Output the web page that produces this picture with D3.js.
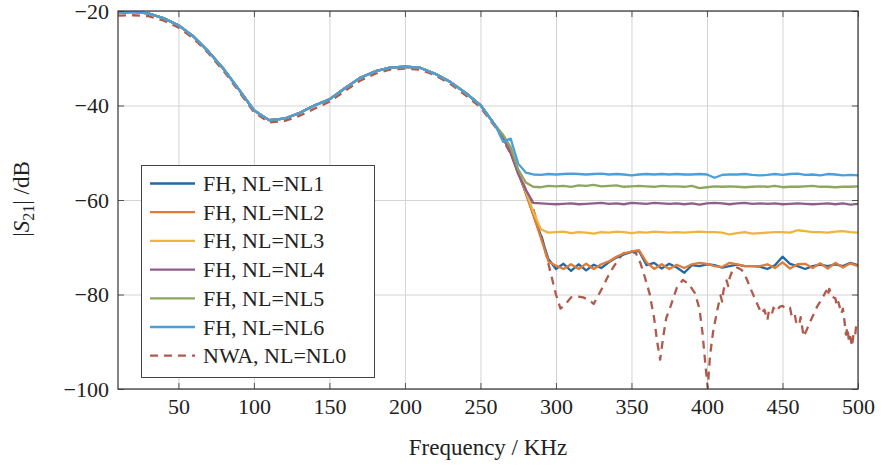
<!DOCTYPE html>
<html>
<head>
<meta charset="utf-8">
<script src="https://cdn.jsdelivr.net/npm/d3@7"></script>
<style>
  body { margin: 0; background: #fff; }
  text { font-family: "Liberation Serif", "Times New Roman", serif; fill: #222; }
</style>
</head>
<body>
<svg id="chart" width="882" height="469"></svg>
<script>
// frequency grid (KHz)
var freqLow = [10, 20, 30, 40, 50, 60, 70, 80, 90, 100, 110, 120, 130, 140, 150, 160, 170, 180, 190, 200, 210, 220, 230, 240, 250, 260];
var freqHigh = [265, 270, 275, 280, 285, 290, 295, 300, 305, 310, 315, 320, 325, 330, 335, 340, 345, 350, 355, 360,
  365, 370, 375, 380, 385, 390, 395, 400, 405, 410, 415, 420, 425, 430, 435, 440, 445, 450, 455, 460,
  465, 470, 475, 480, 485, 490, 495, 500];

// passband shared by all FH curves
var fhBase = [-20.4, -20.2, -20.5, -21.5, -23.0, -25.4, -28.6, -32.3, -36.6, -41.0, -43.1, -42.8, -41.6, -40.0, -38.7,
  -36.4, -34.2, -32.8, -32.0, -31.8, -32.0, -33.3, -35.0, -37.3, -39.9, -44.3];

var tailNL1 = [-46.8, -50.0, -54.2, -58.5, -63.0, -67.5, -72.5, -74.6, -73.5, -75.0, -73.6, -74.9, -73.7, -74.4, -73.2, -72.2,
  -71.5, -71.0, -70.8, -73.8, -73.3, -74.5, -73.5, -74.3, -75.4, -73.8, -74.0, -73.6, -73.8, -74.3, -74.0, -73.7,
  -74.0, -74.0, -74.1, -74.6, -73.8, -72.0, -73.5, -74.0, -74.6, -74.0, -73.7, -74.0, -73.6, -74.0, -73.3, -73.8];
var tailNL2 = [-46.8, -50.0, -54.2, -58.5, -63.2, -68.0, -73.0, -73.9, -74.6, -73.6, -74.6, -73.5, -74.6, -73.6, -73.0, -72.0,
  -71.3, -70.9, -70.6, -73.2, -74.6, -73.6, -74.6, -73.7, -74.4, -73.6, -73.3, -73.5, -74.0, -74.2, -73.3, -73.6,
  -74.0, -74.0, -74.0, -73.6, -74.4, -73.2, -74.5, -73.6, -73.5, -74.4, -73.4, -74.5, -73.3, -74.3, -73.4, -74.0];
var tailNL3 = [-46.8, -49.8, -53.8, -58.0, -62.5, -66.2, -66.9, -66.8, -66.7, -67.0, -66.8, -66.9, -67.1, -66.8, -66.9, -66.7,
  -66.8, -67.0, -66.8, -66.9, -66.7, -66.8, -66.9, -66.8, -66.9, -66.8, -66.7, -66.8, -66.8, -66.9, -67.3, -67.0,
  -66.8, -67.1, -67.0, -66.9, -66.8, -66.8, -66.9, -66.4, -66.6, -66.8, -66.8, -66.9, -66.7, -66.6, -66.8, -66.9];
var tailNL4 = [-46.8, -50.0, -54.5, -57.8, -60.6, -60.7, -60.8, -60.9, -60.8, -60.7, -60.9, -60.8, -60.7, -60.6, -60.8, -60.7,
  -60.9, -60.6, -60.7, -60.8, -60.6, -60.7, -60.8, -60.7, -60.9, -60.7, -61.0, -60.7, -60.6, -60.7, -60.9, -60.7,
  -60.6, -60.8, -60.7, -60.8, -60.7, -60.9, -60.8, -60.7, -60.8, -60.9, -60.8, -60.7, -60.9, -60.7, -61.0, -60.8];
var tailNL5 = [-46.2, -48.8, -53.5, -56.3, -57.2, -57.3, -57.0, -57.1, -57.0, -57.2, -56.9, -57.0, -56.8, -57.1, -57.0, -56.9,
  -57.2, -57.1, -57.0, -57.1, -57.2, -57.0, -57.1, -57.1, -57.2, -57.0, -57.5, -57.3, -57.1, -57.2, -57.1, -57.2,
  -57.3, -57.2, -57.1, -57.2, -57.0, -57.3, -57.2, -57.2, -57.1, -57.0, -57.2, -57.2, -57.3, -57.2, -57.2, -57.1];
var tailNL6 = [-47.7, -47.0, -52.3, -54.2, -54.6, -54.7, -54.5, -54.6, -54.5, -54.4, -54.5, -54.6, -54.5, -54.4, -54.6, -54.5,
  -54.6, -54.8, -54.6, -54.5, -54.6, -54.5, -54.6, -54.5, -54.6, -54.6, -54.5, -54.6, -55.3, -54.7, -54.6, -54.6,
  -54.5, -54.7, -54.8, -54.7, -54.5, -54.7, -54.5, -54.4, -54.7, -54.6, -54.8, -54.5, -54.6, -54.8, -54.7, -54.8];

// network analyser measurement
var nwaFreq = [10, 20, 30, 40, 50, 60, 70, 80, 90, 100, 110, 120, 130, 140, 150, 160, 170, 180, 190, 200, 210, 220, 230, 240, 250, 260,
  265, 270, 275, 280, 285, 290, 295, 300, 303, 306, 310, 314, 318, 322, 325, 328, 331, 335, 338, 342, 345, 350, 353, 356,
  359, 362, 365, 367, 369, 371, 373, 376, 380, 384, 388, 392, 395, 397, 399, 400.5, 402, 404, 407, 409, 410, 411, 413, 414,
  415, 417, 420, 423, 426, 430, 433, 436, 438, 440, 441, 443, 444, 446, 448, 450, 452, 455, 456, 458, 459, 461, 462, 464,
  466, 468, 470, 473, 476, 479, 480, 481, 483, 485, 486, 487, 489, 490, 491, 492, 493, 494, 495, 496, 497, 498, 499, 500];
var nwaVals = [-21.0, -20.9, -21.1, -22.0, -23.5, -25.8, -29.0, -32.7, -37.0, -41.4, -43.6, -43.3, -42.2, -40.7, -39.2, -37.0,
  -34.8, -33.3, -32.4, -32.2, -32.4, -33.6, -35.4, -37.8, -40.4, -44.6,
  -47.3, -50.2, -53.8, -57.8, -62.0, -67.0, -73.5, -80.0, -83.0, -82.2, -80.6, -80.4, -80.6, -81.2, -82.0, -80.2, -78.4, -75.8,
  -74.2, -72.3, -71.2, -70.9, -71.3, -73.4, -76.5, -79.8, -85.0, -90.0, -93.8, -89.0, -85.0, -82.4, -78.6, -76.9, -77.8, -79.7,
  -83.0, -88.0, -95.0, -99.8, -93.0, -88.0, -83.0, -80.2, -81.5, -79.0, -77.0, -78.2, -76.5, -74.8, -74.3, -74.8, -76.5, -79.6,
  -81.8, -84.0, -83.2, -85.4, -83.5, -84.2, -82.8, -83.6, -82.6, -82.4, -83.0, -82.8, -84.5, -84.0, -85.8, -86.5, -84.8, -88.9,
  -87.5, -86.0, -84.6, -82.5, -81.0, -79.2, -80.3, -78.8, -80.5, -80.8, -82.5, -81.6, -84.0, -83.0, -85.5, -88.5, -87.0, -90.0,
  -89.0, -91.0, -88.5, -89.0, -86.0, -85.5];

var xTicks = [50, 100, 150, 200, 250, 300, 350, 400, 450, 500];
var yTicks = [-100, -80, -60, -40, -20];
var legendNames = ["FH, NL=NL1", "FH, NL=NL2", "FH, NL=NL3", "FH, NL=NL4", "FH, NL=NL5", "FH, NL=NL6", "NWA, NL=NL0"];
var colors = ["#2369a3", "#e07b39", "#f0b43c", "#8e5f8b", "#8ea65e", "#4b9fdb", "#b05a4c"];

var pLeft = 118, pRight = 858, pTop = 11, pBottom = 389;
var svg = d3.select("#chart");

var x = d3.scaleLinear().domain([10, 500]).range([pLeft, pRight]);
var y = d3.scaleLinear().domain([-100, -20]).range([pBottom, pTop]);

// grid
svg.append("g").attr("transform", "translate(0," + pBottom + ")")
  .call(d3.axisBottom(x).tickValues(xTicks).tickSize(-(pBottom - pTop)).tickFormat(""))
  .call(function(g) { g.select(".domain").remove(); g.selectAll("line").attr("stroke", "#d4d4d4"); });
svg.append("g").attr("transform", "translate(" + pLeft + ",0)")
  .call(d3.axisLeft(y).tickValues(yTicks).tickSize(-(pRight - pLeft)).tickFormat(""))
  .call(function(g) { g.select(".domain").remove(); g.selectAll("line").attr("stroke", "#d4d4d4"); });

// build series
var fhTails = [tailNL1, tailNL2, tailNL3, tailNL4, tailNL5, tailNL6];
var fhFreq = freqLow.concat(freqHigh);
var series = [];
for (var i = 0; i < fhTails.length; i++) {
  var vals = fhBase.concat(fhTails[i]);
  series.push({ pts: fhFreq.map(function(f, k) { return [f, vals[k]]; }), color: colors[i], dash: null });
}
var nwa = { pts: nwaFreq.map(function(f, k) { return [f, nwaVals[k]]; }), color: colors[6], dash: "8,6" };

var line = d3.line().x(function(d) { return x(d[0]); }).y(function(d) { return y(d[1]); });

svg.append("clipPath").attr("id", "clip").append("rect")
  .attr("x", pLeft).attr("y", pTop).attr("width", pRight - pLeft).attr("height", pBottom - pTop);
var plot = svg.append("g").attr("clip-path", "url(#clip)");

// NWA underneath, FH on top
[nwa].concat(series).forEach(function(s) {
  plot.append("path").datum(s.pts)
    .attr("d", line)
    .attr("fill", "none")
    .attr("stroke", s.color)
    .attr("stroke-width", 2.3)
    .attr("stroke-linejoin", "round")
    .attr("stroke-dasharray", s.dash);
});

// axes with inward ticks on all sides
function styleAxis(g) {
  g.select(".domain").remove();
  g.selectAll("line").attr("stroke", "#555");
  g.selectAll("text").style("font-size", "22px").attr("fill", "#222");
}
svg.append("g").attr("transform", "translate(0," + pBottom + ")")
  .call(d3.axisBottom(x).tickValues(xTicks).tickSize(-6).tickPadding(9.5)).call(styleAxis);
svg.append("g").attr("transform", "translate(0," + pTop + ")")
  .call(d3.axisTop(x).tickValues(xTicks).tickSize(-6).tickFormat("")).call(styleAxis);
svg.append("g").attr("transform", "translate(" + pLeft + ",0)")
  .call(d3.axisLeft(y).tickValues(yTicks).tickSize(-6).tickPadding(9)).call(styleAxis);
svg.append("g").attr("transform", "translate(" + pRight + ",0)")
  .call(d3.axisRight(y).tickValues(yTicks).tickSize(-6).tickFormat("")).call(styleAxis);

svg.append("rect").attr("x", pLeft).attr("y", pTop).attr("width", pRight - pLeft).attr("height", pBottom - pTop)
  .attr("fill", "none").attr("stroke", "#333").attr("stroke-width", 1.2);

// axis titles
svg.append("text").attr("x", 488).attr("y", 455).attr("text-anchor", "middle")
  .style("font-size", "23px").text("Frequency / KHz");

var yl = svg.append("text").attr("transform", "translate(29,199) rotate(-90)")
  .attr("text-anchor", "middle").style("font-size", "23px");
yl.append("tspan").text("|");
yl.append("tspan").attr("font-style", "italic").text("S");
yl.append("tspan").attr("dy", 5).style("font-size", "16px").text("21");
yl.append("tspan").attr("dy", -5).text("| /dB");

// legend
var lg = svg.append("g");
lg.append("rect").attr("x", 141.5).attr("y", 165.5).attr("width", 233).attr("height", 212)
  .attr("fill", "#fff").attr("stroke", "#444").attr("stroke-width", 1);
legendNames.forEach(function(name, i) {
  var cy = 183.5 + i * 28.7;
  lg.append("line").attr("x1", 150).attr("x2", 195).attr("y1", cy).attr("y2", cy)
    .attr("stroke", colors[i]).attr("stroke-width", 2.3)
    .attr("stroke-dasharray", i == 6 ? "8,6" : null);
  lg.append("text").attr("x", 203).attr("y", cy + 7.5).style("font-size", "22px").text(name);
});
</script>
</body>
</html>
